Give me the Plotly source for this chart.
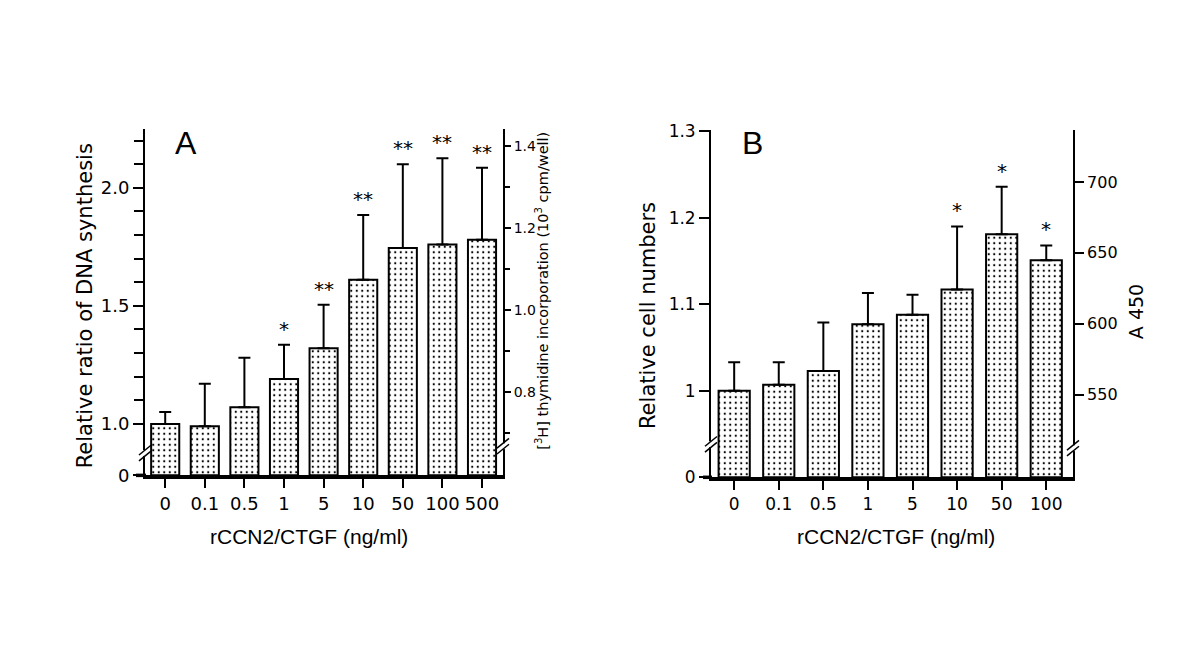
import plotly.graph_objects as go

# ---------------- data ----------------
conc_A = ["0", "0.1", "0.5", "1", "5", "10", "50", "100", "500"]
dna_ratio = [1.00, 0.99, 1.07, 1.19, 1.32, 1.61, 1.745, 1.76, 1.78]
dna_sd = [0.05, 0.18, 0.21, 0.145, 0.185, 0.275, 0.355, 0.365, 0.305]
sig_A = ["", "", "", "*", "**", "**", "**", "**", "**"]

conc_B = ["0", "0.1", "0.5", "1", "5", "10", "50", "100"]
cell_ratio = [1.00, 1.007, 1.023, 1.077, 1.088, 1.117, 1.181, 1.151]
cell_sd = [0.033, 0.026, 0.056, 0.036, 0.023, 0.073, 0.055, 0.017]
sig_B = ["", "", "", "", "", "*", "*", "*"]

# axis ticks
a_major = [1.0, 1.5, 2.0]
a_minor = [1.1, 1.2, 1.3, 1.4, 1.6, 1.7, 1.8, 1.9, 2.1, 2.2]
ar_major = [0.8, 1.0, 1.2, 1.4]
ar_minor = [0.7, 0.9, 1.1, 1.3]
b_major = [1.0, 1.1, 1.2, 1.3]
b_labels = ["1", "1.1", "1.2", "1.3"]
br_major = [550, 600, 650, 700]

W, H = 1200, 669
FONT = "DejaVu Sans"
FONT2 = "Liberation Sans"

# broken-axis offsets (value shown at the "0" baseline of the plot)
offA = 0.782
offB = 0.900
topA = 2.251
topB = 1.301
# right axes (linear companions of the left axes)
rA_range = [0.597, 1.443]
rB_range = [491.8, 736.3]


def px(x):
    return x / W


def py(y):
    return 1 - y / H


domA_x = [px(145), px(503)]
domA_y = [py(480), py(123)]
domB_x = [px(711), px(1073)]
domB_y = [py(482), py(125)]

fig = go.Figure()

pattern = dict(shape=".", fgcolor="black", bgcolor="white", size=5.5, solidity=0.12, fillmode="replace")

xa = list(range(len(conc_A)))
fig.add_trace(go.Bar(
    x=xa, y=[v - offA for v in dna_ratio], base=0, width=0.71,
    marker=dict(color="white", line=dict(color="black", width=2), pattern=pattern),
    error_y=dict(type="data", symmetric=False, array=dna_sd, arrayminus=[0] * len(dna_sd),
                 color="black", thickness=2, width=6),
    xaxis="x", yaxis="y", showlegend=False))

xb = list(range(len(conc_B)))
fig.add_trace(go.Bar(
    x=xb, y=[v - offB for v in cell_ratio], base=0, width=0.70,
    marker=dict(color="white", line=dict(color="black", width=2), pattern=pattern),
    error_y=dict(type="data", symmetric=False, array=cell_sd, arrayminus=[0] * len(cell_sd),
                 color="black", thickness=2, width=6),
    xaxis="x2", yaxis="y3", showlegend=False))

# invisible helper traces so right axes render
fig.add_trace(go.Scatter(x=[0], y=[1.0], xaxis="x", yaxis="y2", mode="markers",
                         marker=dict(opacity=0), showlegend=False, hoverinfo="skip"))
fig.add_trace(go.Scatter(x=[0], y=[600], xaxis="x2", yaxis="y4", mode="markers",
                         marker=dict(opacity=0), showlegend=False, hoverinfo="skip"))


def yax(size, ticklen=10, minor_vals=None):
    d = dict(showgrid=False, zeroline=False, showline=True, linecolor="black", linewidth=1.8,
             ticks="outside", ticklen=ticklen, tickwidth=1.8, tickcolor="black",
             tickfont=dict(family=FONT, size=size, color="black"))
    if minor_vals:
        d["minor"] = dict(tickmode="array", tickvals=minor_vals, ticks="outside",
                          ticklen=ticklen - 1, tickwidth=1.8, tickcolor="black", showgrid=False)
    return d


def xax(size):
    return dict(showgrid=False, zeroline=False, showline=True, linecolor="black", linewidth=3.5,
                ticks="outside", ticklen=9, tickwidth=1.5, tickcolor="black",
                tickfont=dict(family=FONT, size=size, color="black"))


fig.update_layout(
    width=W, height=H, margin=dict(l=0, r=0, t=0, b=0),
    paper_bgcolor="white", plot_bgcolor="rgba(0,0,0,0)",
    xaxis=dict(domain=domA_x, anchor="y", range=[-0.51, 8.53],
               tickvals=xa, ticktext=conc_A, **xax(18)),
    yaxis=dict(domain=domA_y, anchor="x", range=[0, topA - offA],
               tickvals=[0] + [v - offA for v in a_major],
               ticktext=["0"] + [f"{v:.1f}" for v in a_major],
               **yax(18, 10, [v - offA for v in a_minor])),
    yaxis2=dict(overlaying="y", side="right", anchor="x", range=rA_range,
                tickvals=ar_major, ticktext=[f"{v:.1f}" for v in ar_major],
                **yax(14, 6, ar_minor)),
    xaxis2=dict(domain=domB_x, anchor="y3", range=[-0.52, 7.6],
                tickvals=xb, ticktext=conc_B, **xax(17)),
    yaxis3=dict(domain=domB_y, anchor="x2", range=[0, topB - offB],
                tickvals=[0] + [v - offB for v in b_major], ticktext=["0"] + b_labels,
                **yax(17)),
    yaxis4=dict(overlaying="y3", side="right", anchor="x2", range=rB_range,
                tickvals=br_major, ticktext=[str(v) for v in br_major], **yax(16, 9)),
)

ann = []
# significance marks
for i, s in enumerate(sig_A):
    if s:
        ann.append(dict(x=i, y=dna_ratio[i] + dna_sd[i] - offA, xref="x", yref="y", text=s,
                        showarrow=False, xanchor="center", yanchor="bottom", yshift=2,
                        font=dict(family=FONT, size=20, color="black")))
for i, s in enumerate(sig_B):
    if s:
        ann.append(dict(x=i, y=cell_ratio[i] + cell_sd[i] - offB, xref="x2", yref="y3", text=s,
                        showarrow=False, xanchor="center", yanchor="bottom", yshift=2,
                        font=dict(family=FONT, size=20, color="black")))


def label(xc, yc, text, size, family=FONT, angle=0):
    ann.append(dict(x=px(xc), y=py(yc), xref="paper", yref="paper", text=text,
                    textangle=angle, showarrow=False, xanchor="center", yanchor="middle",
                    font=dict(family=family, size=size, color="black")))


# panel letters
label(186, 138, "A", 32, FONT2)
label(753, 138, "B", 32, FONT2)

# axis titles
label(85, 306, "Relative ratio of DNA synthesis", 21, FONT, -90)
label(542, 290, "[<sup>3</sup>H] thymidine incorporation (10<sup>3</sup> cpm/well)", 14.5, FONT, -90)
label(309, 543, "rCCN2/CTGF (ng/ml)", 21, FONT2)
label(648, 316, "Relative cell numbers", 21, FONT, -90)
label(1136, 312, "A 450", 19, FONT, -90)
label(896, 543, "rCCN2/CTGF (ng/ml)", 21, FONT2)

fig.update_layout(annotations=ann)

# break marks on the y axes and baseline extensions
shapes = []


def brk(xc, yc):
    shapes.append(dict(type="line", xref="paper", yref="paper",
                       x0=px(xc), y0=py(yc + 3), x1=px(xc), y1=py(yc - 3),
                       line=dict(color="white", width=4), layer="above"))
    for d in (-3, 3):
        shapes.append(dict(type="line", xref="paper", yref="paper",
                           x0=px(xc - 6), y0=py(yc + d + 5), x1=px(xc + 6), y1=py(yc + d - 5),
                           line=dict(color="black", width=1.5), layer="above"))


brk(145, 457)
brk(503, 450)
brk(711, 448)
brk(1073, 452)


def baseline(x0, x1, yc):
    shapes.append(dict(type="line", xref="paper", yref="paper",
                       x0=px(x0), y0=py(yc), x1=px(x1), y1=py(yc),
                       line=dict(color="black", width=3.5), layer="above"))


baseline(136, 146, 480)
baseline(703, 712, 482)
fig.update_layout(shapes=shapes)

fig.write_html(
    "out.html",
    config={"displayModeBar": False},
    post_script=("document.documentElement.style.overflow='hidden';"
                 "document.body.style.margin='0px';"
                 "document.body.style.overflow='hidden';"),
)
